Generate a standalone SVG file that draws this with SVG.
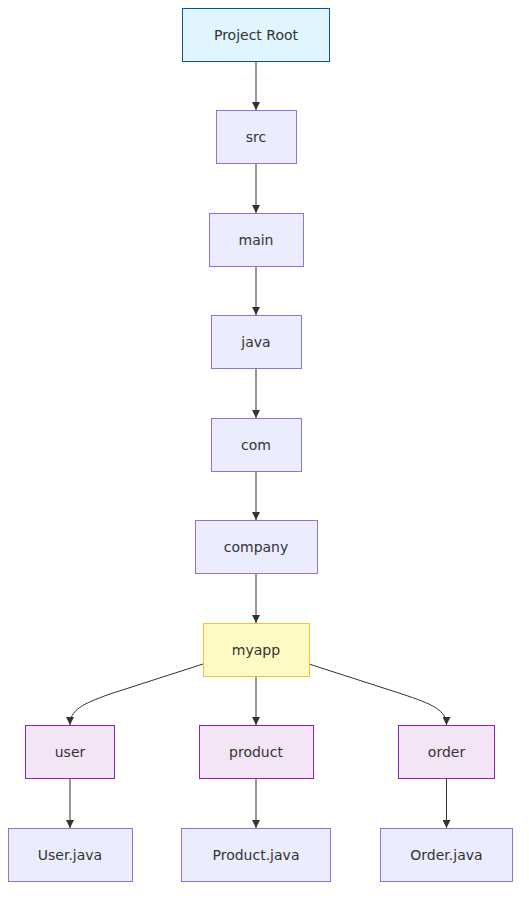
<svg xmlns="http://www.w3.org/2000/svg" width="529" height="902" viewBox="0 0 529 902">
<style>
.n rect{fill:#ECECFF;stroke:#9370DB;stroke-width:1}
.n text{font-family:"DejaVu Sans",Verdana,sans-serif;font-size:14px;fill:#333;text-anchor:middle;dominant-baseline:central}
.root rect{fill:#e1f5fe;stroke:#01579b}
.app rect{fill:#fff9c4;stroke:#fbc02d}
.pkg rect{fill:#f3e5f5;stroke:#8e24aa}
.e path{fill:none;stroke:#333;stroke-width:1}
</style>
<defs>
<marker id="arr" viewBox="0 0 10 10" refX="10" refY="5" markerWidth="8" markerHeight="8" markerUnits="userSpaceOnUse" orient="auto">
<path d="M0,0 L10,5 L0,10 z" fill="#333"/>
</marker>
</defs>
<g class="e" id="connectors">
<path d="M256,61 V110" marker-end="url(#arr)"/>
<path d="M256,163 V213" marker-end="url(#arr)"/>
<path d="M256,266 V315" marker-end="url(#arr)"/>
<path d="M256,368 V418" marker-end="url(#arr)"/>
<path d="M256,471 V520" marker-end="url(#arr)"/>
<path d="M256,573 V623" marker-end="url(#arr)"/>
<path d="M203,664 L110,694 C82,704 70,710 70,725" marker-end="url(#arr)"/>
<path d="M256,676 V725" marker-end="url(#arr)"/>
<path d="M309,664 L402,694 C432,704 446.5,710 446.5,725" marker-end="url(#arr)"/>
<path d="M70,779 V828" marker-end="url(#arr)"/>
<path d="M256,779 V828" marker-end="url(#arr)"/>
<path d="M446.5,779 V828" marker-end="url(#arr)"/>
</g>
<g class="n root" id="root"><rect x="182.5" y="8.5" width="147" height="53"/><text x="256" y="35">Project Root</text></g>
<g class="n" id="src"><rect x="216.5" y="110.5" width="80" height="53"/><text x="256" y="137">src</text></g>
<g class="n" id="main"><rect x="209.5" y="213.5" width="94" height="53"/><text x="256" y="240">main</text></g>
<g class="n" id="java"><rect x="211.5" y="315.5" width="90" height="53"/><text x="256" y="342">java</text></g>
<g class="n" id="com"><rect x="211.5" y="418.5" width="90" height="53"/><text x="256" y="445">com</text></g>
<g class="n" id="company"><rect x="195.5" y="520.5" width="122" height="53"/><text x="256" y="547">company</text></g>
<g class="n app" id="myapp"><rect x="203.5" y="623.5" width="106" height="53"/><text x="256" y="650">myapp</text></g>
<g class="n pkg" id="user"><rect x="25.5" y="725.5" width="89" height="53"/><text x="70" y="752">user</text></g>
<g class="n pkg" id="product"><rect x="199.5" y="725.5" width="114" height="53"/><text x="256" y="752">product</text></g>
<g class="n pkg" id="order"><rect x="398.5" y="725.5" width="96" height="53"/><text x="446.5" y="752">order</text></g>
<g class="n" id="userjava"><rect x="8.5" y="828.5" width="124" height="53"/><text x="70" y="855">User.java</text></g>
<g class="n" id="productjava"><rect x="181.5" y="828.5" width="149" height="53"/><text x="256" y="855">Product.java</text></g>
<g class="n" id="orderjava"><rect x="380.5" y="828.5" width="132" height="53"/><text x="446.5" y="855">Order.java</text></g>
</svg>
